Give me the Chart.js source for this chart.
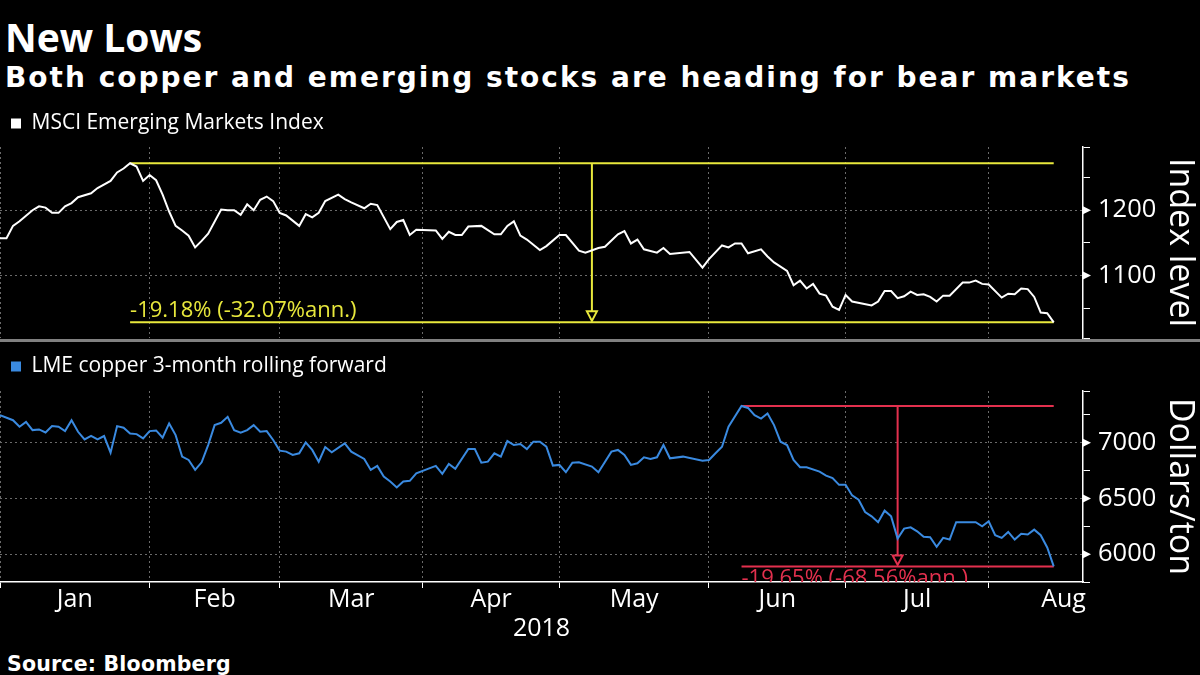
<!DOCTYPE html>
<html>
<head>
<meta charset="utf-8">
<script src="https://cdn.jsdelivr.net/npm/chart.js@4.4.1/dist/chart.umd.min.js"></script>
<style>
  html, body { margin: 0; padding: 0; background: #000; }
  body { width: 1200px; height: 675px; position: relative; overflow: hidden; color: #fff; }
  .txt { position: absolute; left: 5px; white-space: nowrap; line-height: 1; }
  #title { top: 10px; font: bold 39px 'Open Sans', sans-serif; }
  #subtitle { top: 61px; font: bold 28px 'DejaVu Sans', sans-serif; letter-spacing: 2px; }
  #source { top: 652px; left: 7px; font: bold 20.5px 'DejaVu Sans', sans-serif; letter-spacing: 0.2px; }
  .panel { position: absolute; left: 0; width: 1200px; }
  #topPanel { top: 100px; height: 240px; }
  #bottomPanel { top: 344px; height: 301px; }
  #sep { position: absolute; left: 0; top: 339px; width: 1200px; height: 3px; background: #808080; }
</style>
</head>
<body>
<div id="title" class="txt">New Lows</div>
<div id="subtitle" class="txt">Both copper and emerging stocks are heading for bear markets</div>
<div class="panel" id="topPanel"><canvas id="msci" width="1200" height="240"></canvas></div>
<div class="panel" id="bottomPanel"><canvas id="copper" width="1200" height="301"></canvas></div>
<div id="sep"></div>
<div id="source" class="txt">Source: Bloomberg</div>
<script>
// x = weekday number in 2018 (Jan 1 = 0)
const months = ['Jan', 'Feb', 'Mar', 'Apr', 'May', 'Jun', 'Jul', 'Aug'];
const monthWeekdays = [23, 20, 22, 21, 23, 21, 22, 23];
const xMax = 166.5;

const msciDays = [
  0, 1, 2, 3, 5, 6, 7, 8, 9, 10,
  11, 12, 14, 15, 17, 18, 19, 20, 21, 22,
  23, 24, 25, 26, 27, 28, 29, 30, 31, 32,
  34, 35, 36, 37, 38, 39, 40, 41, 42, 43,
  44, 46, 47, 48, 49, 50, 52, 53, 54, 56,
  57, 58, 60, 61, 62, 63, 64, 67, 68, 69,
  70, 71, 72, 74, 76, 77, 78, 79, 80, 81,
  83, 84, 86, 87, 89, 90, 92, 93, 95, 96,
  97, 98, 99, 101, 102, 103, 106, 108, 109, 111,
  112, 113, 114, 115, 117, 118, 119, 121, 122, 123,
  124, 125, 126, 127, 128, 129, 130, 131, 134, 135,
  136, 137, 138, 139, 140, 141, 142, 143, 144, 145,
  146, 148, 149, 150, 151, 152, 154, 155, 156, 157,
  158, 159, 160, 161, 162
];
const msciValues = [
  1157, 1157, 1176, 1183, 1200, 1206, 1204, 1196, 1196, 1206,
  1211, 1220, 1226, 1234, 1245, 1258, 1264, 1272, 1267, 1245,
  1254, 1246, 1224, 1198, 1176, 1169, 1161, 1143, 1153, 1164,
  1201, 1200, 1200, 1193, 1209, 1200, 1216, 1221, 1214, 1196,
  1192, 1176, 1194, 1189, 1196, 1214, 1224, 1217, 1212, 1203,
  1210, 1208, 1171, 1182, 1185, 1162, 1170, 1169, 1156, 1167,
  1162, 1162, 1175, 1176, 1163, 1163, 1176, 1183, 1161, 1155,
  1139, 1145, 1162, 1162, 1138, 1135, 1142, 1144, 1163, 1168,
  1149, 1155, 1140, 1135, 1142, 1133, 1136, 1112, 1125, 1146,
  1143, 1149, 1149, 1134, 1140, 1129, 1120, 1107, 1085, 1092,
  1080, 1087, 1072, 1069, 1052, 1047, 1070, 1060, 1054, 1060,
  1076, 1076, 1065, 1068, 1075, 1070, 1071, 1067, 1060, 1069,
  1069, 1089, 1089, 1092, 1087, 1086, 1066, 1072, 1071, 1080,
  1079, 1067, 1043, 1042, 1028
];

const copperDays = [
  0, 2, 3, 4, 5, 6, 7, 8, 9, 10,
  11, 12, 13, 14, 15, 16, 17, 18, 19, 20,
  21, 22, 23, 24, 25, 26, 27, 28, 29, 30,
  31, 32, 33, 34, 35, 36, 37, 38, 39, 40,
  41, 42, 43, 44, 45, 46, 47, 48, 49, 50,
  51, 53, 54, 56, 57, 58, 59, 60, 61, 62,
  63, 64, 67, 68, 69, 70, 72, 73, 74, 75,
  76, 77, 78, 79, 80, 81, 82, 83, 84, 85,
  86, 87, 88, 89, 91, 92, 94, 95, 96, 97,
  98, 99, 100, 101, 102, 103, 105, 108, 109, 110,
  111, 112, 114, 115, 116, 117, 118, 119, 120, 121,
  122, 123, 124, 126, 127, 128, 129, 130, 131, 132,
  133, 134, 135, 136, 137, 138, 139, 140, 141, 142,
  143, 144, 145, 146, 147, 150, 151, 152, 153, 154,
  155, 156, 157, 158, 159, 160, 161, 162
];
const copperValues = [
  7247, 7202, 7143, 7187, 7113, 7119, 7092, 7149, 7143, 7104,
  7202, 7098, 7030, 7062, 7030, 7060, 6911, 7149, 7134, 7083,
  7077, 7039, 7104, 7110, 7045, 7173, 7068, 6875, 6845, 6756,
  6824, 6979, 7158, 7179, 7232, 7113, 7089, 7113, 7158, 7098,
  7104, 7024, 6929, 6920, 6890, 6905, 7003, 6935, 6830, 6961,
  6914, 6994, 6920, 6854, 6756, 6792, 6696, 6652, 6598, 6652,
  6658, 6726, 6792, 6720, 6810, 6765, 6943, 6943, 6821, 6830,
  6905, 6875, 7015, 6979, 6988, 6943, 7009, 7009, 6964, 6795,
  6801, 6735, 6821, 6824, 6786, 6735, 6920, 6935, 6890, 6801,
  6815, 6869, 6854, 6869, 6979, 6860, 6875, 6839, 6845, 6905,
  6964, 7143, 7330, 7312, 7247, 7217, 7262, 7158, 7009, 6979,
  6845, 6780, 6780, 6741, 6705, 6682, 6622, 6622, 6527, 6488,
  6378, 6339, 6286, 6390, 6339, 6140, 6229, 6241, 6205, 6155,
  6152, 6066, 6146, 6131, 6286, 6286, 6250, 6295, 6170, 6146,
  6199, 6131, 6182, 6176, 6220, 6170, 6060, 5890
];

const WHITE = '#ffffff';
const GRID = '#6a6a6a';
const AXIS_W = 117;

const monthStart = [];
let acc = 0;
monthWeekdays.forEach(n => { monthStart.push(acc); acc += n; });
const monthMid = monthStart.map((s, i) => s + monthWeekdays[i] / 2);

// peak-to-last drop line with arrow and label
const dropPlugin = {
  id: 'drop',
  beforeDatasetsDraw(chart, args, opts) {
    const { ctx, chartArea, scales: { x, y } } = chart;
    const pts = chart.data.datasets[0].data;
    let peak = pts[0];
    pts.forEach(p => { if (p.y > peak.y) peak = p; });
    const last = pts[pts.length - 1];
    const x0 = x.getPixelForValue(peak.x);
    const x1 = x.getPixelForValue(last.x);
    const yHi = y.getPixelForValue(peak.y);
    const yLo = y.getPixelForValue(last.y);
    const xm = (x0 + x1) / 2;
    ctx.save();
    ctx.beginPath();
    ctx.rect(chartArea.left, chartArea.top, chartArea.width, chartArea.height);
    ctx.clip();
    ctx.strokeStyle = opts.color;
    ctx.lineWidth = 2;
    ctx.beginPath();
    ctx.moveTo(x0, yHi); ctx.lineTo(x1, yHi);
    ctx.moveTo(x0, yLo); ctx.lineTo(x1, yLo);
    ctx.moveTo(xm, yHi); ctx.lineTo(xm, yLo - 11);
    ctx.stroke();
    ctx.beginPath();
    ctx.moveTo(xm - 5, yLo - 11); ctx.lineTo(xm + 5, yLo - 11); ctx.lineTo(xm, yLo - 1.5);
    ctx.closePath();
    ctx.stroke();
    ctx.fillStyle = opts.color;
    ctx.font = '22px "Open Sans"';
    if (opts.below) {
      ctx.textBaseline = 'top';
      ctx.fillText(opts.label, x0, yLo + 1);
    } else {
      ctx.textBaseline = 'alphabetic';
      ctx.fillText(opts.label, x0, yLo - 5);
    }
    ctx.restore();
  },
  afterDraw(chart, args, opts) {
    // little pointers on the major y ticks
    const { ctx, scales: { y } } = chart;
    ctx.save();
    ctx.fillStyle = WHITE;
    y.ticks.forEach(t => {
      if (t.value % opts.major !== 0) return;
      const py = y.getPixelForValue(t.value);
      ctx.beginPath();
      ctx.moveTo(y.left, py - 4);
      ctx.lineTo(y.left + 8, py);
      ctx.lineTo(y.left, py + 4);
      ctx.closePath();
      ctx.fill();
    });
    ctx.restore();
  }
};

const legendGap = {
  id: 'legendGap',
  beforeInit(chart) {
    const fit = chart.legend.fit;
    chart.legend.fit = function () {
      fit.bind(chart.legend)();
      this.height += chart.options.plugins.legendGap.extra;
    };
  }
};

function xScale(show) {
  return {
    type: 'linear', min: 0, max: xMax,
    afterBuildTicks: s => {
      s.ticks = monthStart.concat(monthMid).sort((a, b) => a - b).map(v => ({ value: v }));
    },
    ticks: {
      display: show, autoSkip: false, maxRotation: 0, color: WHITE, padding: -1,
      font: { family: 'Open Sans', size: 25, lineHeight: 1 },
      callback: v => { const i = monthMid.indexOf(v); return i >= 0 ? months[i] : ''; }
    },
    grid: {
      color: c => c.tick && monthStart.includes(c.tick.value) ? GRID : 'transparent',
      tickColor: c => c.tick && monthStart.includes(c.tick.value) ? WHITE : 'transparent',
      drawTicks: show, tickLength: 6, lineWidth: 1
    },
    border: { display: show, color: WHITE, width: 1.5, dash: [2, 3] },
    title: { display: show, text: '2018', color: WHITE, padding: { top: 3, bottom: 0 }, font: { family: 'Open Sans', size: 25 } }
  };
}

function yScale(o) {
  return {
    position: 'right', min: o.min, max: o.max,
    afterBuildTicks: s => {
      const vals = [o.min];
      for (let v = Math.ceil(o.min / o.step) * o.step; v <= o.max; v += o.step) {
        if (v !== o.min && v !== o.max) vals.push(v);
      }
      vals.push(o.max);
      s.ticks = vals.map(v => ({ value: v }));
    },
    afterFit: s => { s.width = AXIS_W; s.paddingTop = 0; s.paddingBottom = 0; },
    ticks: {
      color: WHITE, padding: 8, autoSkip: false, font: { family: 'Open Sans', size: 25.5 },
      callback: v => (v % o.major === 0 ? String(v) : '')
    },
    grid: {
      color: c => c.tick && c.tick.value % o.major === 0 ? GRID : 'transparent',
      tickColor: c => c.tick && c.tick.value % o.major === 0 ? 'transparent' : WHITE,
      tickLength: 7, lineWidth: 1
    },
    border: { color: WHITE, width: 1.5, dash: [2, 3] },
    title: { display: true, text: o.title, color: WHITE, padding: 0, font: { family: 'Open Sans', size: 34 } }
  };
}

function panelChart(id, o) {
  return new Chart(document.getElementById(id), {
    type: 'line',
    data: {
      datasets: [{
        label: o.label,
        data: o.days.map((d, i) => ({ x: d, y: o.values[i] })),
        borderColor: o.color,
        backgroundColor: o.color,
        borderWidth: 2,
        pointRadius: 0,
        tension: 0
      }]
    },
    options: {
      responsive: false,
      animation: false,
      layout: { padding: { top: o.padTop, bottom: o.padBottom, left: 0, right: 0 } },
      plugins: {
        legend: {
          align: 'start',
          labels: {
            color: WHITE, boxWidth: 10, boxHeight: 10, padding: 11,
            font: { family: 'Open Sans', size: 21 },
            generateLabels: () => [{
              text: o.label, fillStyle: o.color, strokeStyle: o.color, fontColor: WHITE,
              lineWidth: 0, hidden: false, datasetIndex: 0
            }]
          }
        },
        legendGap: { extra: o.legendGap },
        tooltip: { enabled: false },
        drop: { color: o.dropColor, label: o.dropLabel, below: o.below, major: o.major }
      },
      scales: {
        x: xScale(o.showX),
        y: yScale(o)
      }
    },
    plugins: [dropPlugin, legendGap]
  });
}

panelChart('msci', {
  label: 'MSCI Emerging Markets Index', days: msciDays, values: msciValues, color: WHITE,
  dropColor: '#e8e83c', dropLabel: '-19.18% (-32.07%ann.)', below: false,
  min: 1004, max: 1297, step: 50, major: 100, title: 'Index level',
  padTop: 2, padBottom: 2, legendGap: 3, showX: false
});

panelChart('copper', {
  label: 'LME copper 3-month rolling forward', days: copperDays, values: copperValues, color: '#3a8ae0',
  dropColor: '#e3304e', dropLabel: '-19.65% (-68.56%ann.)', below: true,
  min: 5750, max: 7464, step: 250, major: 500, title: 'Dollars/ton',
  padTop: 1, padBottom: 1, legendGap: 4, showX: true
});
</script>
</body>
</html>
